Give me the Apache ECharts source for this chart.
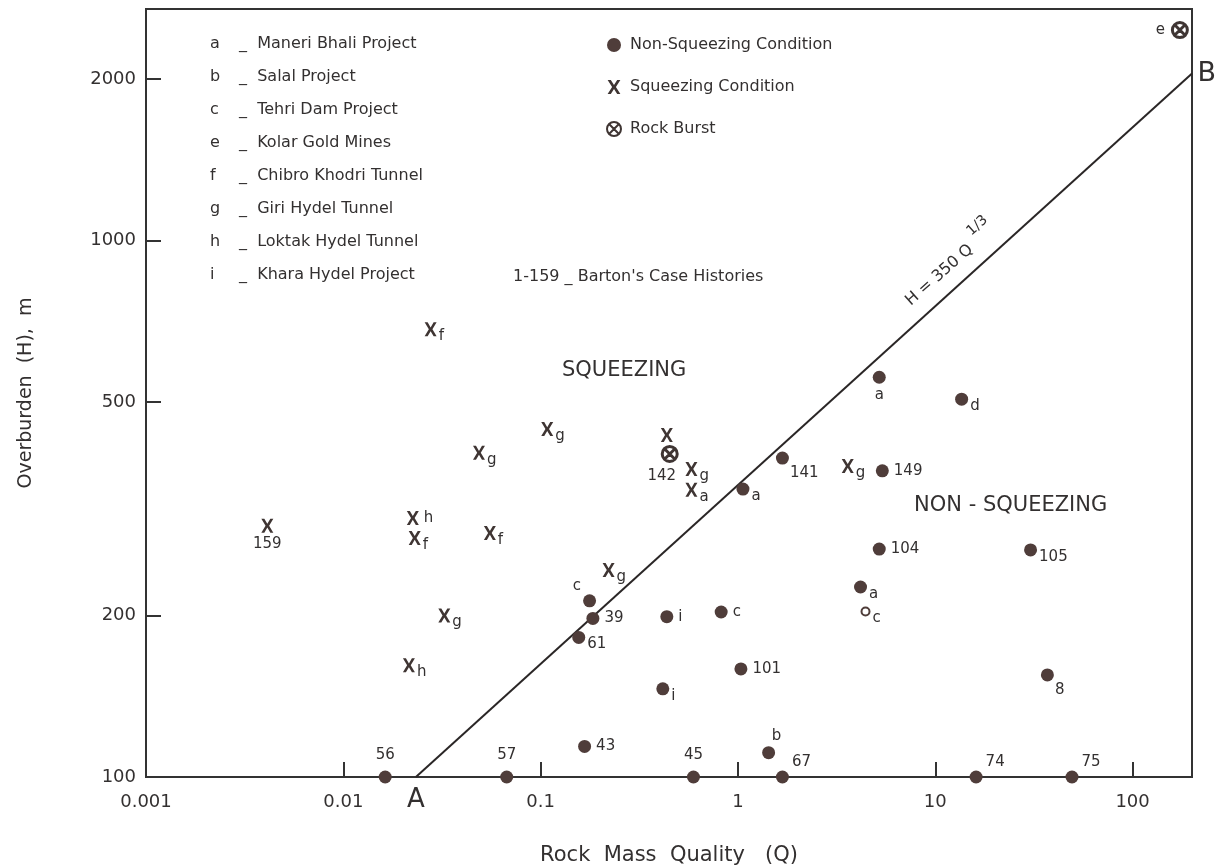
<!DOCTYPE html>
<html>
<head>
<meta charset="utf-8">
<script src="https://cdn.jsdelivr.net/npm/echarts@6/dist/echarts.min.js"></script>
<style>
  html, body { margin: 0; padding: 0; background: #fff; }
  #chart { width: 1221px; height: 867px; }
</style>
</head>
<body>
<div id="chart"></div>
<script>
// ---- Data -----------------------------------------------------------------
// Non-squeezing cases (filled dots)
const nsLabels = ['56', '57', '43', '45', 'b', '67', '74', '75', 'i', '101', '8', 'i', 'c', 'c', '39', '61', 'a', '104', '105', '149', '141', 'a', 'a', 'd'];
const nsQ = [0.0163, 0.0673, 0.167, 0.595, 1.43, 1.68, 16.1, 49.3, 0.416, 1.035, 37.0, 0.436, 0.822, 0.177, 0.184, 0.156, 4.18, 5.20, 30.4, 5.39, 1.68, 1.06, 5.20, 13.6];
const nsH = [100, 100, 114, 100, 111, 100, 100, 100, 146, 159, 155, 199, 203, 213, 197.5, 182, 226, 266, 265, 372, 393, 344, 556, 506];

// Non-squeezing case drawn as an open circle
const ocLabels = ['c'];
const ocQ = [4.43];
const ocH = [203.5];

// Squeezing cases (X)
const sqLabels = ['159', 'h', 'f', 'f', 'g', 'f', 'g', '', 'g', 'a', 'g', 'g', 'g', 'h'];
const sqQ = [0.00412, 0.0225, 0.0230, 0.0553, 0.0487, 0.0277, 0.108, 0.436, 0.581, 0.581, 3.60, 0.221, 0.0325, 0.0215];
const sqH = [294, 304, 279, 285, 402, 683, 445, 434, 375, 343, 380, 243, 200, 161.5];

// Rock burst cases
const rbLabels = ['142', 'e'];
const rbQ = [0.451, 173.6];
const rbH = [400, 2467];

// Boundary H = 350 Q^(1/3), from A (H = 100) to B (Q = 200)
const LINE_COEF = 350;
const lineQ = [Math.pow(100 / LINE_COEF, 3), 200];
const lineEnds = ['A', 'B'];
const eqQ = 14;

// Axis ticks and labels
const xTickValues = [0.01, 0.1, 1, 10, 100];
const xLabelValues = [0.001, 0.01, 0.1, 1, 10, 100];
const yTickValues = [200, 500, 1000, 2000];
const yLabelValues = [100, 200, 500, 1000, 2000];

// Project key
const projectCodes = ['a', 'b', 'c', 'e', 'f', 'g', 'h', 'i'];
const projectNames = ['Maneri Bhali Project', 'Salal Project', 'Tehri Dam Project', 'Kolar Gold Mines',
  'Chibro Khodri Tunnel', 'Giri Hydel Tunnel', 'Loktak Hydel Tunnel', 'Khara Hydel Project'];
const bartonNote = "1-159 _ Barton's Case Histories";

// Region captions
const regionText = ['SQUEEZING', 'NON - SQUEEZING'];
const regionQ = [0.265, 24.1];
const regionH = [573, 320];

// ---- Styling --------------------------------------------------------------
const FONT = 'DejaVu Sans';
const INK = '#333030';
const MARK = '#4f3d3a';

// label placement for each point (style only)
const nsPos = ['top', 'top', 'r', 'top', 'topr', 'ne', 'ne', 'ne', 'se', 'r', 'se8', 'r', 'r', 'nw', 'r', 'se', 'se', 'r', 'se', 'r', 'se8', 'se', 'b', 'se'];
const ocPos = ['se'];
const sqPos = ['b', 'r', 'se', 'se', 'se', 'se', 'se', 'r', 'se', 'se', 'se', 'se', 'se', 'se'];
const rbPos = ['sw', 'l'];

function place(p) {
  const base = { show: true, fontFamily: FONT, fontSize: 15, color: INK };
  const presets = {
    top:  { position: 'top', distance: 8 },
    topr: { position: 'top', distance: 3, offset: [8, 0] },
    ne:   { position: 'right', distance: 3, offset: [0, -15] },
    r:    { position: 'right', distance: 5 },
    se:   { position: 'right', distance: 2, offset: [0, 7] },
    se8:  { position: 'right', distance: 1, offset: [0, 15] },
    nw:   { position: 'left', distance: 2, offset: [0, -15] },
    b:    { position: 'bottom', distance: 4 },
    sw:   { position: 'bottom', distance: 6, offset: [-8, 0] },
    l:    { position: 'left', distance: 6 }
  };
  return Object.assign(base, presets[p] || {});
}

function points(qs, hs, labels, pos) {
  return qs.map((q, i) => ({
    value: [q, hs[i]],
    label: Object.assign(place(pos[i]), { formatter: labels[i] })
  }));
}

const X_PATH = 'path://M0,0 L5,0 L10,8 L15,0 L20,0 L13,11 L20,22 L15,22 L10,14 L5,22 L0,22 L7,11 Z';
const BURST_PATH = 'path://M10,0 A10,10 0 1,0 10,20 A10,10 0 1,0 10,0 Z M4,4 L16,16 M16,4 L4,16';
const HIDDEN = { color: 'rgba(0,0,0,0)', borderWidth: 0 };

const chart = echarts.init(document.getElementById('chart'));

chart.setOption({
  backgroundColor: '#ffffff',
  animation: false,
  textStyle: { fontFamily: FONT, color: INK },
  title: [
    {
      text: projectCodes.join('\n'),
      left: 205, top: 22,
      textStyle: { fontFamily: FONT, fontSize: 16, fontWeight: 'normal', color: INK, lineHeight: 33 }
    },
    {
      text: projectNames.map(n => '_  ' + n).join('\n'),
      left: 234, top: 22,
      textStyle: { fontFamily: FONT, fontSize: 16, fontWeight: 'normal', color: INK, lineHeight: 33 }
    },
    {
      text: bartonNote,
      left: 508, top: 264,
      textStyle: { fontFamily: FONT, fontSize: 16, fontWeight: 'normal', color: INK }
    }
  ],
  legend: {
    data: ['Non-Squeezing Condition', 'Squeezing Condition', 'Rock Burst'],
    orient: 'vertical',
    left: 601, top: 32,
    itemWidth: 14, itemHeight: 14, itemGap: 26,
    textStyle: { fontFamily: FONT, fontSize: 16, color: INK, padding: [0, 0, 0, 4] }
  },
  grid: {
    left: 146, right: 29, top: 9, bottom: 90,
    outerBoundsMode: 'none',
    show: true, borderColor: '#333', borderWidth: 2
  },
  xAxis: {
    type: 'log', logBase: 10, min: 0.001, max: 200,
    name: 'Rock  Mass  Quality   (Q)', nameLocation: 'middle', nameGap: 68,
    nameTextStyle: { fontFamily: FONT, fontSize: 21, color: INK },
    axisLine: { show: true, lineStyle: { color: '#333', width: 2 } },
    axisTick: { show: true, inside: true, length: 15, lineStyle: { color: '#333', width: 2 }, customValues: xTickValues },
    minorTick: { show: false },
    axisLabel: {
      customValues: xLabelValues, margin: 16,
      fontFamily: FONT, fontSize: 18, color: INK,
      formatter: v => String(+Number(v).toPrecision(6))
    },
    splitLine: { show: false }
  },
  yAxis: {
    type: 'log', logBase: 10, min: 100, max: 2700,
    name: 'Overburden  (H),  m', nameLocation: 'middle', nameGap: 110, nameRotate: 90,
    nameTextStyle: { fontFamily: FONT, fontSize: 19, color: INK },
    axisLine: { show: true, lineStyle: { color: '#333', width: 2 } },
    axisTick: { show: true, inside: true, length: 15, lineStyle: { color: '#333', width: 2 }, customValues: yTickValues },
    minorTick: { show: false },
    axisLabel: {
      customValues: yLabelValues, margin: 10,
      fontFamily: FONT, fontSize: 18, color: INK,
      formatter: v => String(Math.round(v))
    },
    splitLine: { show: false }
  },
  series: [
    {
      name: 'H = 350 Q^(1/3)',
      type: 'line',
      clip: false,
      showSymbol: true,
      symbol: 'circle', symbolSize: 1,
      itemStyle: HIDDEN,
      lineStyle: { color: '#2a2626', width: 2 },
      data: lineQ.map((q, i) => ({
        value: [q, LINE_COEF * Math.cbrt(q)],
        label: {
          show: true, formatter: lineEnds[i], opacity: 1,
          position: i === 0 ? 'bottom' : 'right',
          distance: i === 0 ? 10 : 5,
          fontFamily: FONT, fontSize: i === 0 ? 26 : 27, color: INK
        }
      })),
      z: 1
    },
    {
      name: 'equation',
      type: 'scatter',
      symbol: 'circle', symbolSize: 1,
      itemStyle: HIDDEN,
      silent: true,
      data: [{
        value: [eqQ, LINE_COEF * Math.cbrt(eqQ)],
        label: {
          show: true, position: 'inside', rotate: 41.5, offset: [0, -20], opacity: 1,
          formatter: 'H = 350 Q{s|1/3}',
          fontFamily: FONT, fontSize: 16, color: INK,
          rich: { s: { fontFamily: FONT, fontSize: 14, color: INK, padding: [0, 0, 24, 8] } }
        }
      }]
    },
    {
      name: 'Non-Squeezing Condition',
      type: 'scatter',
      symbol: 'circle', symbolSize: 13,
      itemStyle: { color: MARK, opacity: 1 },
      data: points(nsQ, nsH, nsLabels, nsPos),
      z: 3
    },
    {
      name: 'Non-Squeezing (open)',
      type: 'scatter',
      symbol: 'emptyCircle', symbolSize: 8,
      itemStyle: { color: MARK, borderWidth: 1.2, opacity: 1 },
      data: points(ocQ, ocH, ocLabels, ocPos),
      z: 3
    },
    {
      name: 'Squeezing Condition',
      type: 'scatter',
      symbol: X_PATH, symbolSize: [12, 14],
      itemStyle: { color: '#3f3533', opacity: 1 },
      data: points(sqQ, sqH, sqLabels, sqPos),
      z: 3
    },
    {
      name: 'Rock Burst',
      type: 'scatter',
      symbol: BURST_PATH, symbolSize: 15,
      itemStyle: { color: 'rgba(0,0,0,0)', borderColor: '#3f3533', borderWidth: 3, opacity: 1 },
      data: points(rbQ, rbH, rbLabels, rbPos),
      z: 3
    },
    {
      name: 'regions',
      type: 'scatter',
      symbol: 'circle', symbolSize: 1,
      itemStyle: HIDDEN,
      silent: true,
      data: regionText.map((t, i) => ({
        value: [regionQ[i], regionH[i]],
        label: { show: true, position: 'inside', formatter: t, opacity: 1, fontFamily: FONT, fontSize: 21, color: INK }
      }))
    }
  ]
});
</script>
</body>
</html>
